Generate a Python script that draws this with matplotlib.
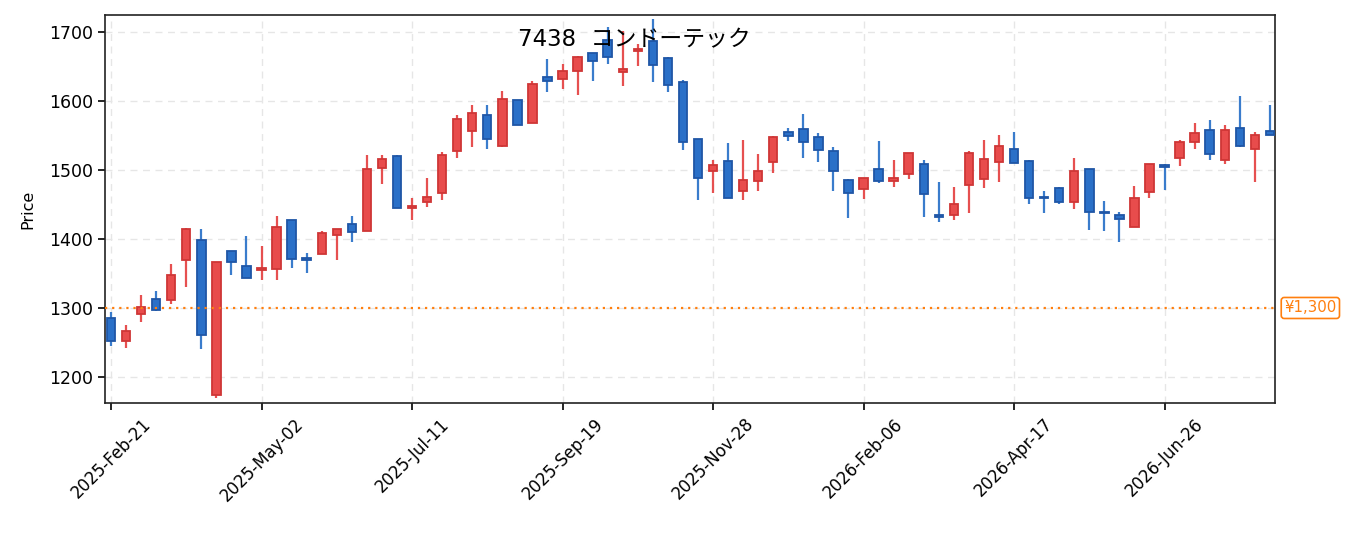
import numpy as np
import pandas as pd
import matplotlib
matplotlib.use("Agg")
import matplotlib.pyplot as plt
import matplotlib.transforms as mtransforms

plt.rcParams['font.family'] = ['DejaVu Sans', 'Noto Sans CJK JP']

# weekly OHLC
dates = pd.date_range('2025-02-21', periods=78, freq='7D')
opens = [1286, 1252, 1291, 1313, 1312, 1369, 1399, 1174, 1382, 1361,
         1355, 1356, 1428, 1372, 1378, 1406, 1422, 1412, 1503, 1520,
         1445, 1454, 1467, 1527, 1557, 1580, 1535, 1602, 1568, 1635,
         1632, 1643, 1670, 1688, 1642, 1673, 1687, 1662, 1628, 1545,
         1498, 1513, 1470, 1484, 1512, 1555, 1560, 1548, 1528, 1485,
         1472, 1502, 1484, 1494, 1508, 1435, 1435, 1478, 1487, 1512,
         1531, 1513, 1461, 1474, 1453, 1502, 1439, 1435, 1417, 1468,
         1507, 1517, 1540, 1558, 1514, 1561, 1530, 1557]
highs = [1294, 1275, 1319, 1325, 1364, 1416, 1415, 1366, 1382, 1404,
         1390, 1433, 1428, 1379, 1411, 1415, 1433, 1522, 1522, 1522,
         1459, 1488, 1526, 1580, 1594, 1594, 1614, 1602, 1629, 1661,
         1653, 1665, 1670, 1707, 1701, 1682, 1719, 1663, 1631, 1545,
         1514, 1539, 1543, 1523, 1549, 1561, 1581, 1553, 1533, 1487,
         1488, 1542, 1514, 1524, 1514, 1483, 1475, 1528, 1543, 1551,
         1555, 1515, 1470, 1476, 1517, 1502, 1455, 1439, 1477, 1508,
         1508, 1543, 1568, 1572, 1565, 1607, 1555, 1594]
lows = [1245, 1242, 1280, 1296, 1306, 1331, 1241, 1169, 1348, 1343,
        1340, 1340, 1358, 1350, 1378, 1370, 1396, 1411, 1480, 1445,
        1428, 1447, 1456, 1518, 1534, 1531, 1534, 1565, 1568, 1613,
        1618, 1609, 1629, 1654, 1622, 1651, 1628, 1613, 1529, 1457,
        1466, 1459, 1457, 1469, 1495, 1542, 1518, 1512, 1470, 1431,
        1458, 1481, 1476, 1487, 1432, 1424, 1428, 1437, 1474, 1482,
        1510, 1451, 1437, 1450, 1444, 1413, 1411, 1396, 1417, 1460,
        1471, 1506, 1531, 1514, 1508, 1534, 1483, 1551]
closes = [1252, 1266, 1302, 1297, 1348, 1414, 1261, 1366, 1367, 1344,
          1358, 1418, 1371, 1370, 1409, 1414, 1410, 1501, 1516, 1445,
          1448, 1461, 1522, 1574, 1583, 1545, 1603, 1565, 1624, 1629,
          1644, 1664, 1658, 1663, 1647, 1675, 1652, 1623, 1540, 1488,
          1507, 1459, 1485, 1499, 1548, 1549, 1541, 1529, 1498, 1467,
          1488, 1484, 1488, 1524, 1465, 1432, 1451, 1524, 1516, 1535,
          1510, 1459, 1459, 1453, 1498, 1439, 1437, 1429, 1460, 1508,
          1505, 1540, 1553, 1523, 1558, 1535, 1551, 1551]
ref_price = 1300
title = '7438  コンドーテック'

o = np.array(opens)
h = np.array(highs)
l = np.array(lows)
c = np.array(closes)
x = np.arange(len(dates))
up = c > o

red_fill, red_edge = '#e84c4c', '#cf3636'
blue_fill, blue_edge = '#2a70c8', '#1f56a6'

fig = plt.figure(figsize=(13.55, 5.33), dpi=100)
ax = fig.add_axes([0.0775, 0.2439, 0.8638, 0.728])

ax.grid(True, linestyle=(0, (5, 4)), color='#e6e6e6', linewidth=1.0, zorder=0)
ax.set_axisbelow(True)

wick_col = np.where(up, '#e65050', '#3a7ccc')
ax.vlines(x, l, h, colors=wick_col, linewidth=1.6, zorder=2)
bottoms = np.minimum(o, c)
heights = np.maximum(np.abs(c - o), 1.5)
ax.bar(x, heights, bottom=bottoms, width=0.56,
       color=np.where(up, red_fill, blue_fill),
       edgecolor=np.where(up, red_edge, blue_edge), linewidth=1.3, zorder=3)

ax.axhline(ref_price, color='#ff7f0e', linestyle=(0, (1, 2.2)), linewidth=1.6, zorder=4)
trans = mtransforms.blended_transform_factory(ax.transAxes, ax.transData)
ax.text(1.0075, ref_price, '¥{:,}'.format(ref_price), transform=trans, color='#ff7f0e',
        fontsize=10.8, va='center', ha='left',
        bbox=dict(boxstyle='round,pad=0.2', facecolor='white', edgecolor='#ff7f0e', linewidth=1.2))

ax.set_xlim(-0.4, 77.37)
ax.set_ylim(1162.3, 1724.6)
ax.set_yticks([1200, 1300, 1400, 1500, 1600, 1700])
ticks = x[::10]
ax.set_xticks(ticks)
ax.set_xticklabels([d.strftime('%Y-%b-%d') for d in dates[::10]], rotation=45, ha='center')
ax.tick_params(labelsize=12, length=5, width=1.2)
ax.tick_params(axis='y', labelsize=12.5)
ax.set_ylabel('Price', fontsize=11.5, labelpad=10)
for s in ax.spines.values():
    s.set_linewidth(1.2)
    s.set_color('#222222')

fig.text(634 / 1355, 1 - 40 / 533, title, fontsize=16.5, ha='center', va='center')

fig.savefig('out.png', dpi=100)
